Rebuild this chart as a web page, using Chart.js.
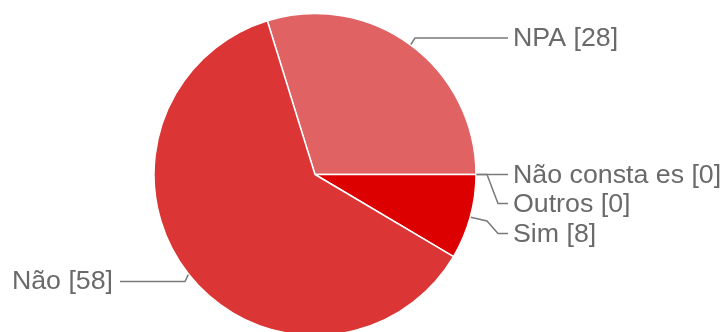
<!DOCTYPE html>
<html>
<head>
<meta charset="utf-8">
<script src="https://cdn.jsdelivr.net/npm/chart.js@4"></script>
<style>
  html, body { margin: 0; padding: 0; background: #fff; overflow: hidden; }
  #wrap { width: 726px; height: 332px; position: relative; }
</style>
</head>
<body>
<div id="wrap"><canvas id="c"></canvas></div>
<script>
// ---- data ----
const categories = ['NPA', 'Não consta es', 'Outros', 'Sim', 'Não'];
const values = [28, 0, 0, 8, 58];
const sliceColors = ['#e06262', '#3366cc', '#ff9900', '#dc0000', '#dc3535'];

const total = values.reduce((a, b) => a + b, 0);
// first slice ends exactly at 3 o'clock
const startRotation = 90 - 360 * values[0] / total;

// label layout (positions only)
const labelLayout = [
  { side: 'right', textY: 39,    path: [[415, 38], [508, 38]] },
  { side: 'right', textY: 176,   path: [[508, 174.5]] },
  { side: 'right', textY: 205.5, path: [[487, 174.5], [498, 203.5], [508, 203.5]] },
  { side: 'right', textY: 235,   path: [[487, 221], [498, 233.5], [508, 233.5]] },
  { side: 'left',  textY: 282.5, path: [[185, 281.5], [120, 281.5]] }
];

const leaderPlugin = {
  id: 'leaders',
  afterDatasetsDraw(chart) {
    const ctx = chart.ctx;
    const meta = chart.getDatasetMeta(0);
    ctx.save();
    meta.data.forEach((arc, i) => {
      const p = arc.getProps(['x', 'y', 'startAngle', 'endAngle', 'outerRadius'], true);
      const mid = (p.startAngle + p.endAngle) / 2;
      const ax = p.x + Math.cos(mid) * (p.outerRadius + 0.5);
      const ay = p.y + Math.sin(mid) * (p.outerRadius + 0.5);
      const L = labelLayout[i];
      ctx.strokeStyle = '#7a7a7a';
      ctx.lineWidth = 1.5;
      ctx.beginPath();
      ctx.moveTo(ax, ay);
      L.path.forEach(pt => ctx.lineTo(pt[0], pt[1]));
      ctx.stroke();
      const text = categories[i] + ' [' + values[i] + ']';
      ctx.font = '25px "Liberation Sans", Arial, sans-serif';
      ctx.fillStyle = '#6a6a6a';
      ctx.textBaseline = 'middle';
      const sx = 1.07;
      ctx.save();
      if (L.side === 'right') {
        ctx.translate(513, L.textY);
        ctx.scale(sx, 1);
        ctx.textAlign = 'left';
      } else {
        ctx.translate(113, L.textY);
        ctx.scale(sx, 1);
        ctx.textAlign = 'right';
      }
      ctx.fillText(text, 0, 0);
      ctx.restore();
    });
    ctx.restore();
  }
};

new Chart(document.getElementById('c'), {
  type: 'pie',
  data: {
    labels: categories,
    datasets: [{
      data: values,
      backgroundColor: sliceColors,
      borderColor: '#ffffff',
      borderWidth: 1.5,
      clip: false
    }]
  },
  options: {
    responsive: true,
    maintainAspectRatio: false,
    devicePixelRatio: 1,
    animation: false,
    rotation: startRotation,
    radius: 161,
    layout: { padding: { left: 154, right: 250, top: 17, bottom: 0 } },
    plugins: {
      legend: { display: false },
      tooltip: { enabled: false }
    },
    events: []
  },
  plugins: [leaderPlugin]
});
</script>
</body>
</html>
